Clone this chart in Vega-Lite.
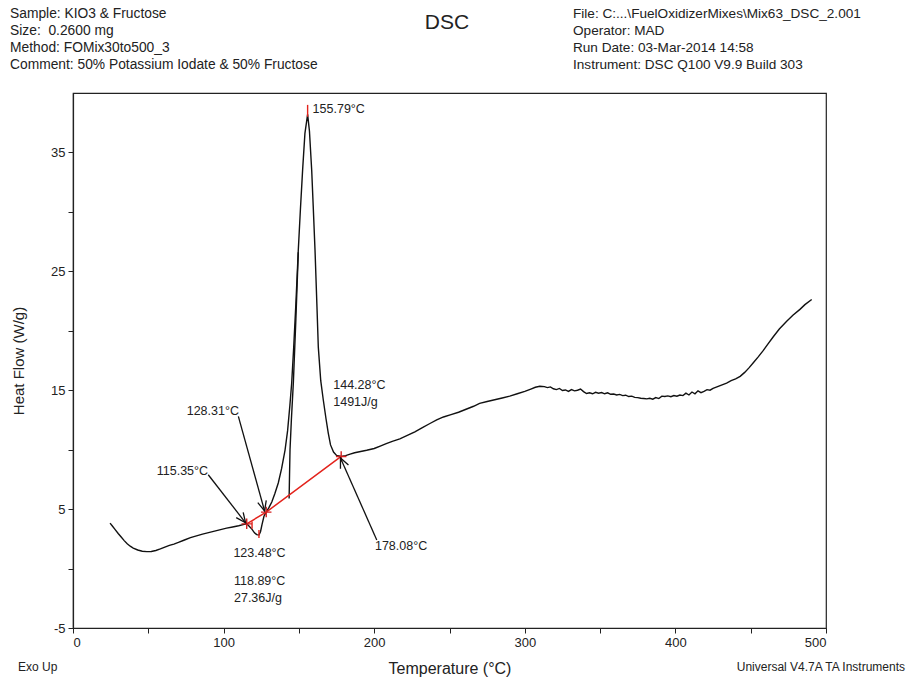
{
  "$schema": "https://vega.github.io/schema/vega-lite/v6.json",
  "width": 753,
  "height": 535,
  "autosize": "none",
  "padding": {"left": 73, "top": 93, "right": 83, "bottom": 54},
  "background": "white",
  "config": {
    "font": "Liberation Sans",
    "view": {"stroke": "#222", "strokeWidth": 1.2},
    "axis": {
      "grid": false,
      "domainColor": "#222",
      "domainWidth": 1.2,
      "tickColor": "#222",
      "tickSize": 5,
      "labelColor": "#222",
      "labelFontSize": 13,
      "labelPadding": 3,
      "titleColor": "#222",
      "titleFontWeight": "normal"
    }
  },
  "datasets": {
    "curve": [
      {"T": 24.6, "HF": 3.82, "s": "A"}, {"T": 26, "HF": 3.6, "s": "A"}, {"T": 28, "HF": 3.28, "s": "A"},
      {"T": 30, "HF": 2.95, "s": "A"}, {"T": 32, "HF": 2.65, "s": "A"}, {"T": 34, "HF": 2.35, "s": "A"},
      {"T": 36, "HF": 2.08, "s": "A"}, {"T": 38, "HF": 1.88, "s": "A"}, {"T": 40, "HF": 1.72, "s": "A"},
      {"T": 43, "HF": 1.56, "s": "A"}, {"T": 46, "HF": 1.46, "s": "A"}, {"T": 49, "HF": 1.42, "s": "A"},
      {"T": 52, "HF": 1.43, "s": "A"}, {"T": 55, "HF": 1.52, "s": "A"}, {"T": 58, "HF": 1.65, "s": "A"},
      {"T": 61, "HF": 1.8, "s": "A"}, {"T": 64, "HF": 1.95, "s": "A"}, {"T": 67, "HF": 2.06, "s": "A"},
      {"T": 70, "HF": 2.2, "s": "A"}, {"T": 74, "HF": 2.4, "s": "A"}, {"T": 78, "HF": 2.6, "s": "A"},
      {"T": 82, "HF": 2.75, "s": "A"}, {"T": 86, "HF": 2.9, "s": "A"}, {"T": 90, "HF": 3.02, "s": "A"},
      {"T": 94, "HF": 3.15, "s": "A"}, {"T": 98, "HF": 3.28, "s": "A"}, {"T": 102, "HF": 3.4, "s": "A"},
      {"T": 106, "HF": 3.5, "s": "A"}, {"T": 110, "HF": 3.6, "s": "A"}, {"T": 113, "HF": 3.7, "s": "A"},
      {"T": 115.35, "HF": 3.76, "s": "A"}, {"T": 117, "HF": 3.55, "s": "A"}, {"T": 118.89, "HF": 3.3, "s": "A"},
      {"T": 120.5, "HF": 3.0, "s": "A"}, {"T": 122, "HF": 2.85, "s": "A"}, {"T": 123.48, "HF": 2.82, "s": "A"},
      {"T": 124.5, "HF": 3.1, "s": "A"}, {"T": 125.5, "HF": 3.7, "s": "A"}, {"T": 126.8, "HF": 4.4, "s": "A"},
      {"T": 128.31, "HF": 4.75, "s": "A"}, {"T": 130, "HF": 5.1, "s": "A"}, {"T": 132, "HF": 5.6, "s": "A"},
      {"T": 134, "HF": 6.3, "s": "A"}, {"T": 136.3, "HF": 7.2, "s": "A"}, {"T": 138.5, "HF": 8.4, "s": "A"},
      {"T": 140.8, "HF": 9.97, "s": "A"}, {"T": 142.5, "HF": 11.6, "s": "A"}, {"T": 144, "HF": 13.7, "s": "A"},
      {"T": 145.2, "HF": 15.58, "s": "A"}, {"T": 146.5, "HF": 18.5, "s": "A"}, {"T": 148, "HF": 22.3, "s": "A"},
      {"T": 149.6, "HF": 26.8, "s": "A"}, {"T": 151, "HF": 30.2, "s": "A"}, {"T": 152.5, "HF": 33.6, "s": "A"},
      {"T": 154, "HF": 36.6, "s": "A"}, {"T": 155.79, "HF": 38.2, "s": "A"}, {"T": 157, "HF": 36.8, "s": "A"},
      {"T": 158.5, "HF": 33.5, "s": "A"}, {"T": 159.5, "HF": 30.5, "s": "A"}, {"T": 160.7, "HF": 26.8, "s": "A"},
      {"T": 162, "HF": 22, "s": "A"}, {"T": 162.9, "HF": 18.6, "s": "A"}, {"T": 164.5, "HF": 15.8, "s": "A"},
      {"T": 166.2, "HF": 14.18, "s": "A"}, {"T": 168, "HF": 12.6, "s": "A"}, {"T": 169.5, "HF": 11.4, "s": "A"},
      {"T": 171, "HF": 10.4, "s": "A"}, {"T": 173, "HF": 9.8, "s": "A"}, {"T": 175, "HF": 9.52, "s": "A"},
      {"T": 178.08, "HF": 9.43, "s": "A"}, {"T": 181, "HF": 9.5, "s": "A"},
      {"T": 184, "HF": 9.62, "s": "A"}, {"T": 187, "HF": 9.74, "s": "A"}, {"T": 191, "HF": 9.85, "s": "A"},
      {"T": 195, "HF": 9.95, "s": "A"}, {"T": 200, "HF": 10.1, "s": "A"}, {"T": 204, "HF": 10.3, "s": "A"},
      {"T": 208, "HF": 10.5, "s": "A"}, {"T": 212, "HF": 10.7, "s": "A"}, {"T": 217, "HF": 10.9, "s": "A"},
      {"T": 222, "HF": 11.2, "s": "A"}, {"T": 227, "HF": 11.5, "s": "A"}, {"T": 232, "HF": 11.85, "s": "A"},
      {"T": 237, "HF": 12.2, "s": "A"}, {"T": 241.5, "HF": 12.5, "s": "A"}, {"T": 246, "HF": 12.75, "s": "A"},
      {"T": 251, "HF": 12.95, "s": "A"}, {"T": 256, "HF": 13.15, "s": "A"}, {"T": 261, "HF": 13.4, "s": "A"},
      {"T": 266, "HF": 13.65, "s": "A"}, {"T": 270, "HF": 13.9, "s": "A"}, {"T": 275, "HF": 14.05, "s": "A"},
      {"T": 280, "HF": 14.2, "s": "A"}, {"T": 285, "HF": 14.35, "s": "A"}, {"T": 290, "HF": 14.5, "s": "A"},
      {"T": 295, "HF": 14.7, "s": "A"}, {"T": 300, "HF": 14.9, "s": "A"}, {"T": 304, "HF": 15.1, "s": "A"},
      {"T": 307, "HF": 15.25, "s": "A"}, {"T": 310, "HF": 15.33, "s": "A"}, {"T": 313, "HF": 15.3, "s": "A"},
      {"T": 315, "HF": 15.22, "s": "A"}, {"T": 317, "HF": 15.28, "s": "A"}, {"T": 319, "HF": 15.12, "s": "A"},
      {"T": 321, "HF": 15.05, "s": "A"}, {"T": 323, "HF": 15.15, "s": "A"}, {"T": 325, "HF": 14.98, "s": "A"},
      {"T": 327, "HF": 15.02, "s": "A"}, {"T": 329, "HF": 14.9, "s": "A"}, {"T": 331, "HF": 15.05, "s": "A"},
      {"T": 333, "HF": 14.95, "s": "A"}, {"T": 335, "HF": 15.0, "s": "A"}, {"T": 337, "HF": 15.1, "s": "A"},
      {"T": 339, "HF": 14.88, "s": "A"}, {"T": 341, "HF": 14.72, "s": "A"}, {"T": 343, "HF": 14.78, "s": "A"},
      {"T": 345, "HF": 14.7, "s": "A"}, {"T": 347, "HF": 14.82, "s": "A"}, {"T": 349, "HF": 14.75, "s": "A"},
      {"T": 351, "HF": 14.8, "s": "A"}, {"T": 353, "HF": 14.7, "s": "A"}, {"T": 355, "HF": 14.78, "s": "A"},
      {"T": 357, "HF": 14.66, "s": "A"}, {"T": 359, "HF": 14.68, "s": "A"}, {"T": 361, "HF": 14.6, "s": "A"},
      {"T": 363, "HF": 14.65, "s": "A"}, {"T": 365, "HF": 14.55, "s": "A"}, {"T": 367, "HF": 14.58, "s": "A"},
      {"T": 369, "HF": 14.47, "s": "A"}, {"T": 371, "HF": 14.5, "s": "A"}, {"T": 373, "HF": 14.4, "s": "A"},
      {"T": 375, "HF": 14.38, "s": "A"}, {"T": 377, "HF": 14.33, "s": "A"}, {"T": 379, "HF": 14.3, "s": "A"},
      {"T": 381, "HF": 14.27, "s": "A"}, {"T": 383, "HF": 14.32, "s": "A"}, {"T": 385, "HF": 14.25, "s": "A"},
      {"T": 387, "HF": 14.38, "s": "A"}, {"T": 389, "HF": 14.3, "s": "A"}, {"T": 391, "HF": 14.5, "s": "A"},
      {"T": 393, "HF": 14.47, "s": "A"}, {"T": 395, "HF": 14.52, "s": "A"}, {"T": 397, "HF": 14.45, "s": "A"},
      {"T": 399, "HF": 14.55, "s": "A"}, {"T": 401, "HF": 14.5, "s": "A"}, {"T": 403, "HF": 14.6, "s": "A"},
      {"T": 405, "HF": 14.55, "s": "A"}, {"T": 407, "HF": 14.75, "s": "A"}, {"T": 409, "HF": 14.6, "s": "A"},
      {"T": 411, "HF": 14.85, "s": "A"}, {"T": 413, "HF": 14.7, "s": "A"}, {"T": 415, "HF": 14.95, "s": "A"},
      {"T": 417, "HF": 14.8, "s": "A"}, {"T": 419, "HF": 14.9, "s": "A"}, {"T": 421, "HF": 15.05, "s": "A"},
      {"T": 423, "HF": 15.0, "s": "A"}, {"T": 425, "HF": 15.15, "s": "A"}, {"T": 428, "HF": 15.3, "s": "A"},
      {"T": 431, "HF": 15.45, "s": "A"}, {"T": 434, "HF": 15.6, "s": "A"}, {"T": 437, "HF": 15.8, "s": "A"},
      {"T": 440, "HF": 15.95, "s": "A"}, {"T": 443, "HF": 16.17, "s": "A"}, {"T": 446, "HF": 16.5, "s": "A"},
      {"T": 449, "HF": 16.9, "s": "A"}, {"T": 452, "HF": 17.35, "s": "A"}, {"T": 455, "HF": 17.8, "s": "A"},
      {"T": 458.4, "HF": 18.35, "s": "A"}, {"T": 461.5, "HF": 18.9, "s": "A"}, {"T": 465, "HF": 19.5, "s": "A"},
      {"T": 469, "HF": 20.15, "s": "A"}, {"T": 473.9, "HF": 20.8, "s": "A"}, {"T": 478, "HF": 21.3, "s": "A"},
      {"T": 482.7, "HF": 21.8, "s": "A"}, {"T": 486, "HF": 22.2, "s": "A"}, {"T": 490.5, "HF": 22.63, "s": "A"},
      {"T": 143.5, "HF": 5.9, "s": "B"}, {"T": 143.8, "HF": 8.0, "s": "B"}, {"T": 144.1, "HF": 10.0, "s": "B"},
      {"T": 145, "HF": 12.5, "s": "B"}, {"T": 146.3, "HF": 15.6, "s": "B"}, {"T": 148, "HF": 21, "s": "B"},
      {"T": 149.6, "HF": 26.6, "s": "B"}
    ],
    "baseline": [
      {"T": 115.35, "HF": 3.76}, {"T": 128.31, "HF": 4.75}, {"T": 178.08, "HF": 9.43}
    ],
    "ticks": [
      {"T": 155.79, "lo": 38.0, "hi": 39.0},
      {"T": 118.89, "lo": 3.35, "hi": 3.95},
      {"T": 123.48, "lo": 2.57, "hi": 3.24}
    ],
    "cross": [
      {"T": 115.35, "HF": 3.76}, {"T": 128.31, "HF": 4.75}, {"T": 178.08, "HF": 9.43}
    ],
    "arrows": [
      {"id": "a", "T0": 89.8, "HF0": 7.89, "T1": 114.6, "HF1": 3.85},
      {"id": "b", "T0": 109.8, "HF0": 12.8, "T1": 127.2, "HF1": 4.85},
      {"id": "c", "T0": 201.7, "HF0": 2.41, "T1": 177.6, "HF1": 9.3}
    ],
    "notes": [
      {"T": 159.1, "HF": 38.65, "label": "155.79°C"},
      {"T": 172.8, "HF": 15.4, "label": "144.28°C\n1491J/g"},
      {"T": 75.5, "HF": 13.25, "label": "128.31°C"},
      {"T": 55.6, "HF": 8.23, "label": "115.35°C"},
      {"T": 106.5, "HF": 1.33, "label": "123.48°C"},
      {"T": 106.9, "HF": -1.05, "label": "118.89°C\n27.36J/g"},
      {"T": 200.5, "HF": 1.9, "label": "178.08°C"}
    ],
    "header": [
      {"block": "left", "label": "Sample: KIO3 & Fructose\nSize:\u00a0 0.2600 mg\nMethod: FOMix30to500_3\nComment: 50% Potassium Iodate & 50% Fructose"},
      {"block": "right", "label": "File: C:...\\FuelOxidizerMixes\\Mix63_DSC_2.001\nOperator: MAD\nRun Date: 03-Mar-2014 14:58\nInstrument: DSC Q100 V9.9 Build 303"},
      {"block": "title", "label": "DSC"},
      {"block": "exo", "label": "Exo Up"},
      {"block": "sw", "label": "Universal V4.7A TA Instruments"}
    ]
  },
  "layer": [
    {
      "data": {"name": "curve"},
      "mark": {"type": "line", "color": "#111", "strokeWidth": 1.4},
      "encoding": {
        "x": {
          "field": "T", "type": "quantitative",
          "scale": {"domain": [0, 500], "nice": false, "zero": false},
          "axis": {
            "values": [0, 25, 50, 75, 100, 125, 150, 175, 200, 225, 250, 275, 300, 325, 350, 375, 400, 425, 450, 475, 500],
            "labelExpr": "datum.value % 100 === 0 ? toString(datum.value) : ''",
            "labelFontSize": 13,
            "title": "Temperature (°C)",
            "titleFontSize": 16,
            "titlePadding": 11
          }
        },
        "y": {
          "field": "HF", "type": "quantitative",
          "scale": {"domain": [-5, 40], "nice": false, "zero": false},
          "axis": {
            "values": [-5, -2.5, 0, 2.5, 5, 7.5, 10, 12.5, 15, 17.5, 20, 22.5, 25, 27.5, 30, 32.5, 35, 37.5],
            "labelExpr": "(datum.value + 5) % 10 === 0 ? toString(datum.value) : ''",
            "title": "Heat Flow (W/g)",
            "titleFontSize": 15,
            "titlePadding": 24
          }
        },
        "detail": {"field": "s", "type": "nominal"}
      }
    },
    {
      "data": {"name": "baseline"},
      "mark": {"type": "line", "color": "#e3231c", "strokeWidth": 1.5},
      "encoding": {
        "x": {"field": "T", "type": "quantitative"},
        "y": {"field": "HF", "type": "quantitative"}
      }
    },
    {
      "data": {"name": "ticks"},
      "mark": {"type": "rule", "color": "#e3231c", "strokeWidth": 1.4},
      "encoding": {
        "x": {"field": "T", "type": "quantitative"},
        "y": {"field": "lo", "type": "quantitative"},
        "y2": {"field": "hi"}
      }
    },
    {
      "data": {"name": "cross"},
      "mark": {"type": "point", "shape": "M-1,0L1,0M0,-1L0,1", "size": 110, "filled": false, "color": "#d42020", "strokeWidth": 1.4, "opacity": 1},
      "encoding": {
        "x": {"field": "T", "type": "quantitative"},
        "y": {"field": "HF", "type": "quantitative"}
      }
    },
    {
      "data": {"name": "arrows"},
      "mark": {"type": "rule", "color": "#111", "strokeWidth": 1.3},
      "encoding": {
        "x": {"field": "T0", "type": "quantitative"},
        "y": {"field": "HF0", "type": "quantitative"},
        "x2": {"field": "T1"},
        "y2": {"field": "HF1"}
      }
    },
    {
      "data": {"name": "arrows"},
      "transform": [{"filter": "datum.id === 'a'"}],
      "mark": {"type": "point", "shape": "M-1,-0.45L0,0L-1,0.45", "size": 380, "filled": false, "color": "#111", "strokeWidth": 1.3, "opacity": 1, "angle": 52.8},
      "encoding": {
        "x": {"field": "T1", "type": "quantitative"},
        "y": {"field": "HF1", "type": "quantitative"}
      }
    },
    {
      "data": {"name": "arrows"},
      "transform": [{"filter": "datum.id === 'b'"}],
      "mark": {"type": "point", "shape": "M-1,-0.45L0,0L-1,0.45", "size": 380, "filled": false, "color": "#111", "strokeWidth": 1.3, "opacity": 1, "angle": 74.9},
      "encoding": {
        "x": {"field": "T1", "type": "quantitative"},
        "y": {"field": "HF1", "type": "quantitative"}
      }
    },
    {
      "data": {"name": "arrows"},
      "transform": [{"filter": "datum.id === 'c'"}],
      "mark": {"type": "point", "shape": "M-1,-0.45L0,0L-1,0.45", "size": 380, "filled": false, "color": "#111", "strokeWidth": 1.3, "opacity": 1, "angle": 245.8},
      "encoding": {
        "x": {"field": "T1", "type": "quantitative"},
        "y": {"field": "HF1", "type": "quantitative"}
      }
    },
    {
      "data": {"name": "notes"},
      "mark": {"type": "text", "align": "left", "baseline": "middle", "fontSize": 12.5, "color": "#222", "lineBreak": "\n", "lineHeight": 17},
      "encoding": {
        "x": {"field": "T", "type": "quantitative"},
        "y": {"field": "HF", "type": "quantitative"},
        "text": {"field": "label"}
      }
    },
    {
      "data": {"name": "header"},
      "transform": [{"filter": "datum.block === 'left'"}],
      "mark": {"type": "text", "clip": false, "invalid": null, "align": "left", "baseline": "middle", "fontSize": 13.8, "color": "#222", "lineBreak": "\n", "lineHeight": 17},
      "encoding": {
        "x": {"datum": -41.8},
        "y": {"datum": 46.64},
        "text": {"field": "label"}
      }
    },
    {
      "data": {"name": "header"},
      "transform": [{"filter": "datum.block === 'right'"}],
      "mark": {"type": "text", "clip": false, "invalid": null, "align": "left", "baseline": "middle", "fontSize": 13.6, "color": "#222", "lineBreak": "\n", "lineHeight": 17},
      "encoding": {
        "x": {"datum": 332.0},
        "y": {"datum": 46.64},
        "text": {"field": "label"}
      }
    },
    {
      "data": {"name": "header"},
      "transform": [{"filter": "datum.block === 'title'"}],
      "mark": {"type": "text", "clip": false, "invalid": null, "align": "center", "baseline": "middle", "fontSize": 21, "color": "#222"},
      "encoding": {
        "x": {"datum": 248.3},
        "y": {"datum": 45.9},
        "text": {"field": "label"}
      }
    },
    {
      "data": {"name": "header"},
      "transform": [{"filter": "datum.block === 'exo'"}],
      "mark": {"type": "text", "clip": false, "invalid": null, "align": "left", "baseline": "middle", "fontSize": 12, "color": "#222"},
      "encoding": {
        "x": {"datum": -36.5},
        "y": {"datum": -8.28},
        "text": {"field": "label"}
      }
    },
    {
      "data": {"name": "header"},
      "transform": [{"filter": "datum.block === 'sw'"}],
      "mark": {"type": "text", "clip": false, "invalid": null, "align": "right", "baseline": "middle", "fontSize": 12, "color": "#222"},
      "encoding": {
        "x": {"datum": 552.5},
        "y": {"datum": -8.28},
        "text": {"field": "label"}
      }
    }
  ]
}
